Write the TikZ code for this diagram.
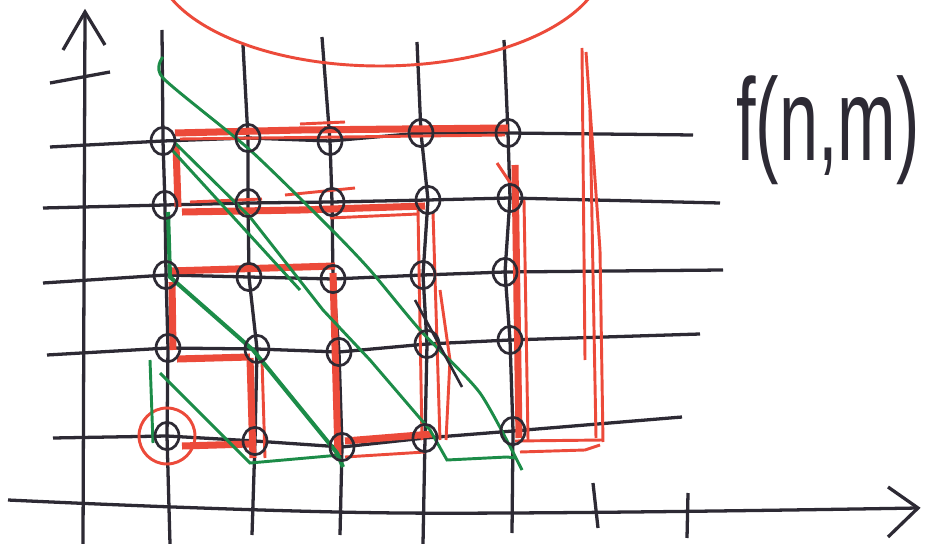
\documentclass[tikz,border=0pt]{standalone}
\usepackage{fontspec}
\usepackage{graphicx}
\setmainfont{Liberation Sans}
\usetikzlibrary{shapes.geometric}
\definecolor{ink}{RGB}{45,42,52}
\definecolor{redink}{RGB}{236,74,58}
\definecolor{greenink}{RGB}{28,140,72}
\pgfdeclarelayer{background}
\pgfsetlayers{background,main}
\begin{document}
\begin{tikzpicture}[x=0.03cm,y=-0.03cm, line cap=round, line join=round,
  gridline/.style={draw=ink, line width=2.8pt},
  axisline/.style={draw=ink, line width=2.8pt},
  pt/.style={ellipse, draw=ink, line width=2.3pt, minimum width=0.72cm, minimum height=0.82cm, inner sep=0pt},
  redband/.style={draw=redink, line width=6pt},
  redthin/.style={draw=redink, line width=2.5pt},
  greenline/.style={draw=greenink, line width=2.5pt}]
\useasboundingbox (0,0) rectangle (927,544);
% grid points
\foreach \c/\r/\x/\y in {1/1/163/141, 2/1/248/138, 3/1/330/141, 4/1/421/133, 5/1/508/133,
  1/2/165/205, 2/2/248/203, 3/2/332/202, 4/2/428/200, 5/2/510/198,
  1/3/166/275, 2/3/249/277, 3/3/333/279, 4/3/423/275, 5/3/505/272,
  1/4/168/348, 2/4/257/349, 3/4/339/352, 4/4/427/344, 5/4/510/340,
  1/5/167/436, 2/5/255/441, 3/5/342/447, 4/5/425/438, 5/5/513/431}
  {\node[pt] (n\c\r) at (\x,\y) {};}
% line ends
\coordinate (r1L) at (50,147);  \coordinate (r1R) at (693,135);
\coordinate (r2L) at (43,208);  \coordinate (r2R) at (720,203);
\coordinate (r3L) at (43,283);  \coordinate (r3R) at (723,270);
\coordinate (r4L) at (47,355);  \coordinate (r4R) at (700,334);
\coordinate (r5L) at (53,438);  \coordinate (r5R) at (682,417);
\coordinate (c1T) at (162,30);  \coordinate (c1B) at (170,544);
\coordinate (c2T) at (243,45);  \coordinate (c2B) at (252,535);
\coordinate (c3T) at (322,37);  \coordinate (c3B) at (340,535);
\coordinate (c4T) at (417,42);  \coordinate (c4B) at (423,544);
\coordinate (c5T) at (504,40);  \coordinate (c5B) at (512,533);
\coordinate (yB) at (83,544);   \coordinate (yT) at (85,12);
\coordinate (xL) at (8,500);    \coordinate (xM) at (400,513);  \coordinate (xR) at (918,508);
% label
\node[anchor=base west, text=ink, inner sep=0pt] (lab) at (736,161)
  {\scalebox{0.6}[1]{\fontsize{100pt}{100pt}\selectfont f(n,m)}};
\begin{pgfonlayer}{background}
\fill[white] (0,0) rectangle (927,544);
% grid
\foreach \r in {1,...,5}
  {\draw[gridline] (r\r L) -- (n1\r.center) -- (n2\r.center) -- (n3\r.center) -- (n4\r.center) -- (n5\r.center) -- (r\r R);}
\foreach \c in {1,...,5}
  {\draw[gridline] (c\c T) -- (n\c1.center) -- (n\c2.center) -- (n\c3.center) -- (n\c4.center) -- (n\c5.center) -- (c\c B);}
% axes
\draw[axisline] (yB) -- (yT);
\draw[axisline] (63,50) -- (yT) -- (105,45);
\draw[axisline] (50,83) -- (110,72);
\draw[axisline] plot[smooth, tension=0.6] coordinates {(xL) (xM) (xR)};
\draw[axisline] (888,487) -- (xR) -- (888,537);
\draw[axisline] (593,483) -- (598,528);
\draw[axisline] (688,493) -- (687,538);
% red
\draw[redthin] (380,-42) ellipse[x radius=225, y radius=108];
\draw[redband] (175,133) -- (300,130) -- (508,128);
\draw[redthin] (180,139) -- (505,135);
\draw[redthin] (300,124) -- (345,122);
\draw[redband] (176,145) -- (178,207);
\draw[redband] (182,212) -- (300,210) -- (425,206);
\draw[redthin] (190,202) -- (262,199);
\draw[redthin] (285,195) -- (355,188);
\draw[redthin] (330,218) -- (418,214);
\draw[redband] (170,271) -- (335,266);
\draw[redband] (172,282) -- (173,350);
\draw[redband] (177,359) -- (250,357);
\draw[redband] (250,358) -- (253,458);
\draw[redthin] (262,360) -- (265,458);
\draw[redband] (182,446) -- (250,444);
\draw[redband] (333,273) -- (338,455);
\draw[redband] (345,441) -- (432,434);
\draw[redthin] (345,457) -- (425,452);
\draw[redthin] (418,210) -- (422,440);
\draw[redthin] (433,212) -- (440,440);
\draw[redthin] (440,290) -- (450,360) -- (446,440);
\draw[redthin] (497,163) -- (513,187);
\draw[redband] (515,165) -- (519,438);
\draw[redthin] (524,200) -- (528,440);
\draw[redthin] (515,441) -- (603,440);
\draw[redthin] (520,452) -- (585,450) -- (600,445);
\draw[redthin] (582,48) -- (585,360);
\draw[redthin] (586,52) -- (600,250) -- (603,442);
\draw[redthin] (590,110) -- (596,438);
\draw[redthin] (n15.center) circle[radius=28];
% green
\draw[greenline] plot[smooth, tension=0.4] coordinates {(163,57) (163,78) (250,150) (330,228) (370,270) (420,330) (480,393) (522,470)};
\draw[greenline] (175,143) -- (250,217) -- (323,310) -- (370,360) -- (430,430) -- (447,460) -- (507,457) -- (516,458);
\draw[greenline] (172,150) -- (300,290);
\draw[greenline, line width=3.5pt] (168,212) -- (170,277) -- (253,350) -- (337,453) -- (343,467);
\draw[greenline] (160,373) -- (250,463) -- (340,455);
\draw[greenline] (150,360) -- (153,443);
\draw[draw=ink, line width=2.2pt] (415,300) -- (462,387);
\end{pgfonlayer}
\end{tikzpicture}
\end{document}
